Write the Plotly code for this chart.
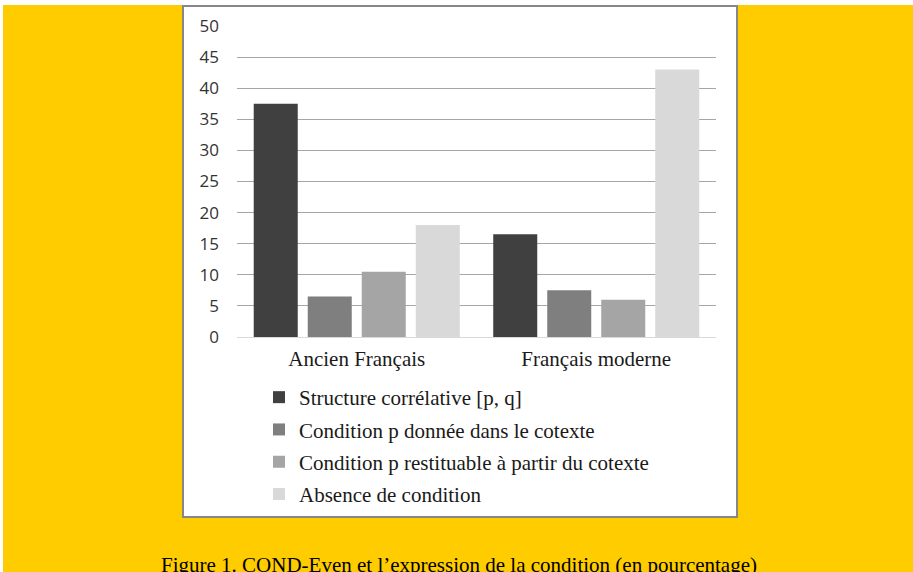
import plotly.graph_objects as go

categories = ["Ancien Français", "Français moderne"]
series_names = [
    "Structure corrélative [p, q]",
    "Condition p donnée dans le cotexte",
    "Condition p restituable à partir du cotexte",
    "Absence de condition",
]
series_values = [
    [37.5, 16.5],
    [6.5, 7.5],
    [10.5, 6.0],
    [18.0, 43.0],
]
series_colors = ["#404040", "#7f7f7f", "#a5a5a5", "#d9d9d9"]
y_ticks = [0, 5, 10, 15, 20, 25, 30, 35, 40, 45, 50]
caption = "Figure 1. COND-Even et l\u2019expression de la condition (en pourcentage)"

W, H = 913, 572
PX0, PX1 = 237, 716
PY_TOP, PY_BOT = 26, 337


def px(x):
    return (x - PX0) / (PX1 - PX0)


def py(y):
    return (PY_BOT - y) / (PY_BOT - PY_TOP)


fig = go.Figure()
for i, (name, vals, col) in enumerate(zip(series_names, series_values, series_colors)):
    fig.add_trace(go.Bar(
        x=categories, y=vals, name=name,
        marker=dict(color=col, line=dict(width=0)),
        legendgroup=f"g{i}",
    ))

serif = "Liberation Serif, Times New Roman, serif"

fig.update_layout(
    width=W, height=H,
    margin=dict(l=PX0, r=W - PX1, t=PY_TOP, b=H - PY_BOT, pad=0),
    paper_bgcolor="white",
    plot_bgcolor="rgba(0,0,0,0)",
    barmode="group",
    bargap=0.098,
    bargroupgap=0.185,
    showlegend=True,
    legend=dict(
        orientation="v",
        x=px(259), xanchor="left",
        y=py(377), yanchor="top",
        font=dict(family=serif, size=21, color="#1a1a1a"),
        bgcolor="rgba(0,0,0,0)",
        tracegroupgap=2,
        traceorder="grouped",
    ),
    xaxis=dict(
        showgrid=False,
        showline=False,
        ticks="",
        tickfont=dict(family=serif, size=21, color="#1a1a1a"),
        ticklabelstandoff=7,
    ),
    yaxis=dict(
        range=[0, 50],
        tickvals=y_ticks,
        showgrid=True,
        gridcolor="#a6a6a6",
        gridwidth=1,
        zeroline=True,
        zerolinecolor="#d9d9d9",
        zerolinewidth=1,
        showline=False,
        ticks="",
        ticklabelstandoff=17,
        tickfont=dict(family="Open Sans, sans-serif", size=17, color="#333333"),
    ),
    shapes=[
        dict(type="rect", xref="paper", yref="paper",
             x0=px(3), x1=px(913), y0=py(5), y1=py(572),
             fillcolor="#ffcc00", line=dict(width=0), layer="below"),
        dict(type="rect", xref="paper", yref="paper",
             x0=px(183), x1=px(737), y0=py(6), y1=py(517),
             fillcolor="white", line=dict(color="#878787", width=2), layer="below"),
    ],
    annotations=[
        dict(text=caption, xref="paper", yref="paper",
             x=px(459), y=py(551), xanchor="center", yanchor="top",
             showarrow=False,
             font=dict(family=serif, size=21, color="#000000")),
    ],
)

fig.write_html(
    "out.html",
    config={"displayModeBar": False},
    post_script="document.body.style.margin='0';document.body.style.padding='0';document.body.style.overflow='hidden';",
)
